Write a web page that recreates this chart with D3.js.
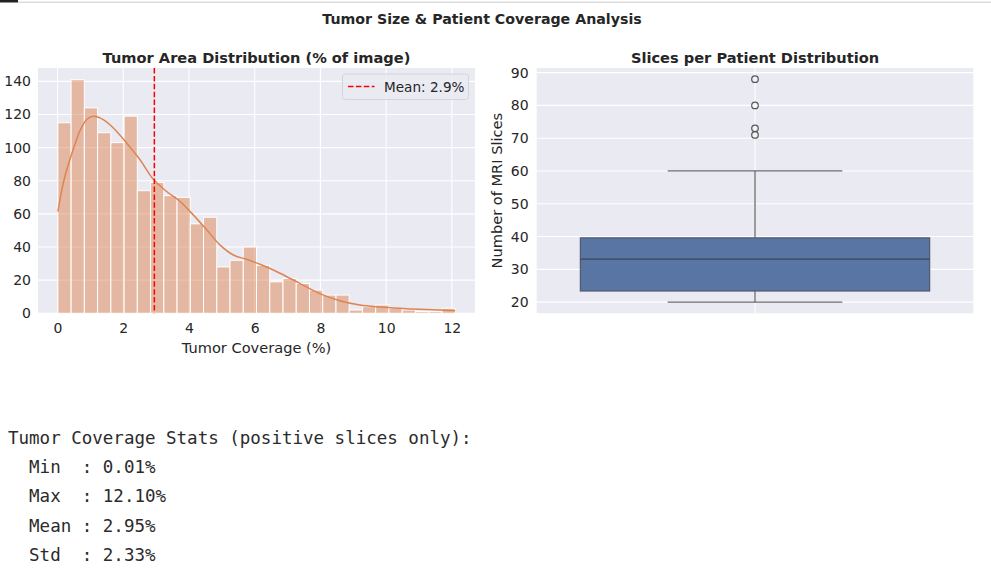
<!DOCTYPE html>
<html>
<head>
<meta charset="utf-8">
<script src="https://cdn.jsdelivr.net/npm/d3@7"></script>
<style>
  body { margin: 0; background: #fff; }
  svg text { font-family: "DejaVu Sans", sans-serif; fill: #262626; }
  .mono { font-family: "DejaVu Sans Mono", monospace; fill: #2b2b2b; white-space: pre; }
</style>
</head>
<body>
<div id="chart"></div>
<script>
// histogram: 30 equal bins from min to max coverage
var binMin = 0.01, binMax = 12.10, binCount = 30;
var binCounts = [115, 141, 124, 109, 103, 119, 74, 79, 71, 70, 54, 58, 28, 32, 40,
                 29, 19, 21, 18, 14, 11, 11, 2, 4, 5, 3, 2, 1, 1, 3];

// kde curve, [coverage %, count]
var kdePoints = [[0.01, 61.4], [0.13, 74.5], [0.25, 84.5], [0.38, 93], [0.53, 102],
                 [0.68, 110], [0.89, 117], [1.09, 118.9], [1.39, 116.9], [1.70, 111.8],
                 [2.10, 102.8], [2.51, 92.7], [2.91, 81], [3.32, 73.5], [3.73, 67.5],
                 [4.13, 59.4], [4.54, 50.4], [4.94, 41.3], [5.35, 35.2], [5.75, 32.6],
                 [6.16, 29.6], [6.45, 27.2], [6.77, 24.2], [7.37, 18.1], [7.98, 11.9],
                 [8.59, 7.6], [9.2, 5.0], [9.81, 3.8], [10.42, 3.0], [11.02, 2.4],
                 [11.63, 2.0], [12.1, 1.6]];
var meanCoverage = 2.946;
var histXTicks = [0, 2, 4, 6, 8, 10, 12];
var histYTicks = [0, 20, 40, 60, 80, 100, 120, 140];

// slices per patient box plot summary
var boxStats = {q1: 23.4, median: 33.1, q3: 39.6, low: 20, high: 60};
var outliers = [88, 80, 73, 71];
var boxYTicks = [20, 30, 40, 50, 60, 70, 80, 90];

var statLines = ["Tumor Coverage Stats (positive slices only):",
                 "  Min  : 0.01%",
                 "  Max  : 12.10%",
                 "  Mean : 2.95%",
                 "  Std  : 2.33%"];

var W = 991, H = 575;
var svg = d3.select("#chart").append("svg")
    .attr("width", W).attr("height", H);

// notebook cell frame at the top
svg.append("rect").attr("x", 18).attr("y", 1.5).attr("width", W - 18).attr("height", 1.5).attr("fill", "#dcdcdc");
svg.append("rect").attr("x", 0).attr("y", 0).attr("width", 18).attr("height", 2.5).attr("fill", "#222");

svg.append("text")
    .attr("x", 482).attr("y", 24)
    .attr("text-anchor", "middle")
    .style("font-weight", "bold").style("font-size", "14.2px")
    .text("Tumor Size & Patient Coverage Analysis");

var plotTop = 68, plotBottom = 313.3;

// ---------- histogram ----------
var hx = d3.scaleLinear()
    .domain([binMin - 0.05 * (binMax - binMin), binMax + 0.05 * (binMax - binMin)])
    .range([38, 475]);
var hy = d3.scaleLinear()
    .domain([0, d3.max(binCounts) * 1.05])
    .range([plotBottom, plotTop]);

var hist = svg.append("g");
hist.append("rect")
    .attr("x", hx.range()[0]).attr("y", plotTop)
    .attr("width", hx.range()[1] - hx.range()[0]).attr("height", plotBottom - plotTop)
    .attr("fill", "#eaeaf2");

hist.selectAll(".vgrid").data(histXTicks).enter().append("line")
    .attr("x1", d => hx(d)).attr("x2", d => hx(d))
    .attr("y1", plotTop).attr("y2", plotBottom)
    .attr("stroke", "#fff").attr("stroke-width", 1.1);
hist.selectAll(".hgrid").data(histYTicks).enter().append("line")
    .attr("x1", hx.range()[0]).attr("x2", hx.range()[1])
    .attr("y1", d => hy(d)).attr("y2", d => hy(d))
    .attr("stroke", "#fff").attr("stroke-width", 1.1);

var binW = (binMax - binMin) / binCount;
hist.selectAll(".bar").data(binCounts).enter().append("rect")
    .attr("x", (d, i) => hx(binMin + i * binW))
    .attr("width", hx(binMin + binW) - hx(binMin))
    .attr("y", d => hy(d))
    .attr("height", d => hy(0) - hy(d))
    .attr("fill", "#dd8452").attr("fill-opacity", 0.5)
    .attr("stroke", "#fff").attr("stroke-width", 1);

var kdeLine = d3.line()
    .x(d => hx(d[0])).y(d => hy(d[1]))
    .curve(d3.curveCatmullRom);
hist.append("path")
    .attr("d", kdeLine(kdePoints))
    .attr("fill", "none").attr("stroke", "#dd8452").attr("stroke-width", 1.5);

hist.append("line")
    .attr("x1", hx(meanCoverage)).attr("x2", hx(meanCoverage))
    .attr("y1", plotTop).attr("y2", plotBottom)
    .attr("stroke", "#ff0000").attr("stroke-width", 1.5)
    .attr("stroke-dasharray", "5.5,2.4");

var hxAxis = hist.append("g")
    .attr("transform", "translate(0," + plotBottom + ")")
    .call(d3.axisBottom(hx).tickValues(histXTicks).tickSize(0).tickPadding(10));
var hyAxis = hist.append("g")
    .attr("transform", "translate(" + hx.range()[0] + ",0)")
    .call(d3.axisLeft(hy).tickValues(histYTicks).tickSize(0).tickPadding(7));
[hxAxis, hyAxis].forEach(function(a) {
    a.select(".domain").remove();
    a.selectAll("text").style("font-size", "14px").style("fill", "#262626")
        .style("font-family", "DejaVu Sans");
});

hist.append("text")
    .attr("x", (hx.range()[0] + hx.range()[1]) / 2).attr("y", 352.5)
    .attr("text-anchor", "middle").style("font-size", "14.6px")
    .text("Tumor Coverage (%)");
hist.append("text")
    .attr("x", (hx.range()[0] + hx.range()[1]) / 2).attr("y", 62.5)
    .attr("text-anchor", "middle")
    .style("font-weight", "bold").style("font-size", "14.6px")
    .text("Tumor Area Distribution (% of image)");

// legend
var leg = hist.append("g").attr("transform", "translate(342.5,74)");
leg.append("rect")
    .attr("width", 126).attr("height", 25.5).attr("rx", 3)
    .attr("fill", "#eaeaf2").attr("fill-opacity", 0.8)
    .attr("stroke", "#d4d4dc").attr("stroke-width", 1);
leg.append("line")
    .attr("x1", 5.5).attr("x2", 32).attr("y1", 12.5).attr("y2", 12.5)
    .attr("stroke", "#ff0000").attr("stroke-width", 1.5)
    .attr("stroke-dasharray", "5.5,2.4");
leg.append("text")
    .attr("x", 41.5).attr("y", 17.8).style("font-size", "13.6px")
    .text("Mean: " + d3.format(".1f")(Math.floor(meanCoverage * 10) / 10) + "%");

// ---------- box plot ----------
var bx = d3.scaleLinear().domain([-0.5, 0.5]).range([536.7, 973.3]);
var yLo = boxStats.low, yHi = d3.max(outliers);
var by = d3.scaleLinear()
    .domain([yLo - 0.05 * (yHi - yLo), yHi + 0.05 * (yHi - yLo)])
    .range([plotBottom, plotTop]);

var box = svg.append("g");
box.append("rect")
    .attr("x", bx(-0.5)).attr("y", plotTop)
    .attr("width", bx(0.5) - bx(-0.5)).attr("height", plotBottom - plotTop)
    .attr("fill", "#eaeaf2");
box.selectAll(".hgrid").data(boxYTicks).enter().append("line")
    .attr("x1", bx(-0.5)).attr("x2", bx(0.5))
    .attr("y1", d => by(d)).attr("y2", d => by(d))
    .attr("stroke", "#fff").attr("stroke-width", 1.1);
box.append("line")
    .attr("x1", bx(0)).attr("x2", bx(0)).attr("y1", plotTop).attr("y2", plotBottom)
    .attr("stroke", "#fff").attr("stroke-width", 1.1);

var lineCol = "#6b6b6b";
// whiskers
box.append("line")
    .attr("x1", bx(0)).attr("x2", bx(0))
    .attr("y1", by(boxStats.q3)).attr("y2", by(boxStats.high))
    .attr("stroke", lineCol).attr("stroke-width", 1.3);
box.append("line")
    .attr("x1", bx(0)).attr("x2", bx(0))
    .attr("y1", by(boxStats.q1)).attr("y2", by(boxStats.low))
    .attr("stroke", lineCol).attr("stroke-width", 1.3);
box.selectAll(".cap").data([boxStats.low, boxStats.high]).enter().append("line")
    .attr("x1", bx(-0.2)).attr("x2", bx(0.2))
    .attr("y1", d => by(d)).attr("y2", d => by(d))
    .attr("stroke", lineCol).attr("stroke-width", 1.3);
box.append("rect")
    .attr("x", bx(-0.4)).attr("width", bx(0.4) - bx(-0.4))
    .attr("y", by(boxStats.q3)).attr("height", by(boxStats.q1) - by(boxStats.q3))
    .attr("fill", "#5875a4").attr("stroke", "#505a6c").attr("stroke-width", 1.2);
box.append("line")
    .attr("x1", bx(-0.4)).attr("x2", bx(0.4))
    .attr("y1", by(boxStats.median)).attr("y2", by(boxStats.median))
    .attr("stroke", "#3d4556").attr("stroke-width", 1.3);
box.selectAll(".outlier").data(outliers).enter().append("circle")
    .attr("cx", bx(0)).attr("cy", d => by(d)).attr("r", 3.3)
    .attr("fill", "none").attr("stroke", "#555").attr("stroke-width", 1.2);

var byAxis = box.append("g")
    .attr("transform", "translate(" + bx(-0.5) + ",0)")
    .call(d3.axisLeft(by).tickValues(boxYTicks).tickSize(0).tickPadding(8));
byAxis.select(".domain").remove();
byAxis.selectAll("text").style("font-size", "14px").style("fill", "#262626")
    .style("font-family", "DejaVu Sans");

box.append("text")
    .attr("transform", "translate(502," + ((plotTop + plotBottom) / 2) + ") rotate(-90)")
    .attr("text-anchor", "middle").style("font-size", "14.6px")
    .text("Number of MRI Slices");
box.append("text")
    .attr("x", (bx(-0.5) + bx(0.5)) / 2).attr("y", 62.5)
    .attr("text-anchor", "middle")
    .style("font-weight", "bold").style("font-size", "14.6px")
    .text("Slices per Patient Distribution");

// ---------- printed stats ----------
svg.selectAll(".stat").data(statLines).enter().append("text")
    .attr("class", "mono")
    .attr("x", 8).attr("y", (d, i) => 443.5 + i * 29.4)
    .attr("xml:space", "preserve")
    .style("font-size", "17.5px")
    .text(d => d);
</script>
</body>
</html>
